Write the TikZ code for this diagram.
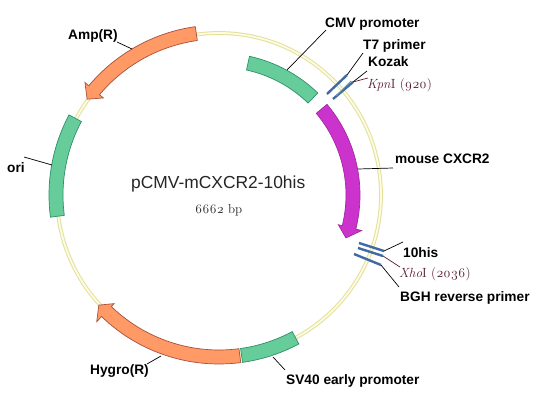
\documentclass[tikz,border=0pt]{standalone}
\usepackage{fontspec}
\setmainfont{Liberation Sans}
\newfontfamily\oldf[Numbers=OldStyle]{Latin Modern Roman}
\definecolor{bandgreen}{HTML}{66CC99}
\definecolor{edgegreen}{HTML}{2F8F6B}
\definecolor{bandorange}{HTML}{FF9966}
\definecolor{edgeorange}{HTML}{A8503A}
\definecolor{bandmag}{HTML}{CC33CC}
\definecolor{edgemag}{HTML}{A02AA0}
\definecolor{ringedge}{HTML}{E4E09A}
\definecolor{ringfill}{HTML}{FCFCE4}
\definecolor{tickblue}{HTML}{3F6AA6}
\definecolor{siteteal}{HTML}{5FA59A}
\definecolor{sitered}{HTML}{5A1F30}
\newcommand{\bandseg}[5]{\draw[#1] (#2:#5pt) arc[start angle=#2,end angle=#3,radius=#5pt] -- (#3:#4pt) arc[start angle=#3,end angle=#2,radius=#4pt] -- cycle;}
% style, a1, a2 (head base), atip, rin, rout, rbarbin, rbarbout, rtip
\newcommand{\arrowband}[9]{\draw[#1] (#2:#6pt) arc[start angle=#2,end angle=#3,radius=#6pt] -- (#3:#8pt) -- (#4:#9pt) -- (#3:#7pt) -- (#3:#5pt) arc[start angle=#3,end angle=#2,radius=#5pt] -- cycle;}
\tikzset{
  lbl/.style={anchor=base west,inner sep=0pt,font=\bfseries\fontsize{13.7}{15}\selectfont,text=black},
  sitelbl/.style={anchor=base west,inner sep=0pt,font=\oldf\fontsize{13.3}{15}\selectfont,text=sitered},
  leader/.style={draw=black,line width=0.7pt},
  siteleader/.style={draw=sitered,line width=0.7pt},
  tick/.style={draw=tickblue,line width=2.4pt},
  greenband/.style={fill=bandgreen,draw=edgegreen,line width=0.7pt},
  orangeband/.style={fill=bandorange,draw=edgeorange,line width=0.7pt},
  magband/.style={fill=bandmag,draw=edgemag,line width=0.7pt}
}
\begin{document}
\begin{tikzpicture}[x=1pt,y=-1pt]
\useasboundingbox[fill=white] (0,0) rectangle (555,407);
\begin{scope}[shift={(219,195)}]
  \draw[ringedge,line width=3.8pt] (0:162pt) arc[start angle=0,end angle=360,radius=162pt];
  \draw[ringfill,line width=1.8pt] (0:162pt) arc[start angle=0,end angle=360,radius=162pt];
  \bandseg{greenband}{77.6}{45.9}{128}{142}
  \arrowband{magband}{40}{-14}{-18.7}{127}{141}{123}{147}{134}
  \arrowband{orangeband}{98}{140}{144}{156}{170}{151}{175}{163}
  \bandseg{greenband}{151.9}{187.5}{156}{170}
  \arrowband{orangeband}{277.4}{226}{222.5}{155}{169}{151}{176}{163}
  \bandseg{greenband}{278}{298.2}{155}{169}
\end{scope}
% features (ticks)
\coordinate (t7a) at (327,94);   \coordinate (t7b) at (347,75);
\coordinate (koa) at (333,99);   \coordinate (kob) at (353,82);
\coordinate (kpa) at (336,96);   \coordinate (kpb) at (351,81);
\coordinate (hisa) at (359,243); \coordinate (hisb) at (384,251);
\coordinate (xhoa) at (358,248); \coordinate (xhob) at (383,256);
\coordinate (bgha) at (354,254); \coordinate (bghb) at (381,265);
\draw[tick] (t7a) -- (t7b);
\draw[tick] (koa) -- (kob);
\draw[draw=siteteal,line width=1pt] (kpa) -- (kpb);
\draw[tick] (hisa) -- (hisb);
\draw[tick] (xhoa) -- (xhob);
\draw[tick] (bgha) -- (bghb);
% labels
\node[lbl] (cmv) at (325,27) {CMV promoter};
\node[lbl] (t7) at (363,49) {T7 primer};
\node[lbl] (kozak) at (368,66) {Kozak};
\node[sitelbl] (kpn) at (367,88) {\textit{Kpn}I (920)};
\node[lbl] (cxcr) at (395,163) {mouse CXCR2};
\node[lbl] (his) at (403,257) {10his};
\node[sitelbl] (xho) at (399,277) {\textit{Xho}I (2036)};
\node[lbl] (bgh) at (400,301) {BGH reverse primer};
\node[lbl] (amp) at (68,39) {Amp(R)};
\node[lbl] (ori) at (7,172) {ori};
\node[lbl] (hygro) at (90,374) {Hygro(R)};
\node[lbl] (sv) at (286,384) {SV40 early promoter};
\node[anchor=base west,inner sep=0pt,font=\fontsize{17.4}{20}\selectfont,text=black!85] (title) at (131,188) {pCMV-mCXCR2-10his};
\node[anchor=base west,inner sep=0pt,font=\oldf\fontsize{13}{15}\selectfont,text=black!85] (size) at (195,213) {6662 bp};
% leaders
\coordinate (lcmv) at (287,70);
\coordinate (lcx) at (358,169);
\coordinate (lamp) at (132,49);
\coordinate (lori) at (52,165);
\coordinate (lhy) at (161,356);
\coordinate (lsv) at (273,357);
\coordinate (ecmv) at (326,30);
\coordinate (et7) at (363,53);
\coordinate (eko) at (367,71);
\coordinate (ekp) at (368,78);
\coordinate (ecx) at (393,168);
\coordinate (ehis) at (403,242);
\coordinate (exh) at (400,267);
\coordinate (ebg) at (399,287);
\coordinate (eamp) at (117,42);
\coordinate (eori) at (24,157);
\coordinate (ehy) at (147,364);
\coordinate (esv) at (285,370);
\draw[leader] (lcmv) -- (ecmv);
\draw[leader] (t7b) -- (et7);
\draw[leader] (kob) -- (eko);
\draw[siteleader] (kob) -- (ekp);
\draw[leader] (lcx) -- (ecx);
\draw[leader] (hisb) -- (ehis);
\draw[siteleader] (xhob) -- (exh);
\draw[leader] (bghb) -- (ebg);
\draw[leader] (lamp) -- (eamp);
\draw[leader] (lori) -- (eori);
\draw[leader] (lhy) -- (ehy);
\draw[leader] (lsv) -- (esv);
\end{tikzpicture}
\end{document}
